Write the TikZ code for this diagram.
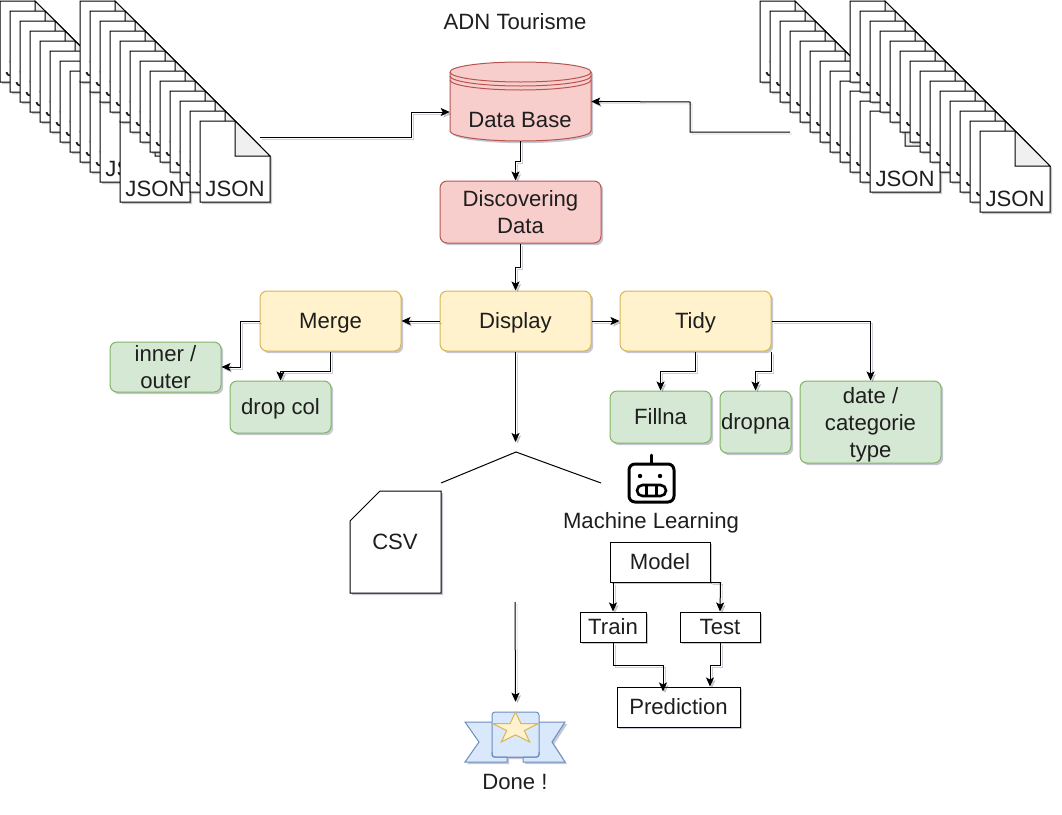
\documentclass[tikz,border=0pt]{standalone}
\usepackage{fontspec}
\setmainfont{Liberation Sans}
\usetikzlibrary{shadows,arrows.meta}
\definecolor{ink}{RGB}{30,30,30}
\definecolor{redfill}{HTML}{F8CECC}
\definecolor{redline}{HTML}{B85450}
\definecolor{yelfill}{HTML}{FFF2CC}
\definecolor{yelline}{HTML}{D6B656}
\definecolor{grnfill}{HTML}{D5E8D4}
\definecolor{grnline}{HTML}{82B366}
\definecolor{blufill}{HTML}{DAE8FC}
\definecolor{bluline}{HTML}{6C8EBF}
\definecolor{shade}{RGB}{90,95,125}
\newlength\px
\setlength\px{0.75pt}
% one sheet of a stack: name, left, top
\newcommand\jsonpage[3]{
  \draw[sheet] (#2,#3) -- ++(35,0) -- ++(35,35) -- ++(0,46) -- ++(-70,0) -- cycle;
  \draw[black,fill=black!6,line width=1\px] (#2+35,#3) -- ++(35,35) -- ++(-35,0) -- cycle;
  \node[lbl] (#1) at (#2+35,#3+67.5) {JSON};
}
\begin{document}
\begin{tikzpicture}[x=1\px,y=-1\px,>={Stealth[length=6.75pt,width=6pt,inset=1.5pt]},font=\fontsize{16.6}{20.25}\selectfont,text=ink,
  wh/.style 2 args={minimum width=#1\px,minimum height=#2\px,inner sep=0pt,align=center},
  oneline/.style={text height=13pt,text depth=2pt},
  soft/.style={drop shadow={shadow xshift=2.2\px,shadow yshift=-2.2\px,fill=shade,opacity=0.35}},
  lbl/.style={inner sep=0pt,align=center},
  sheet/.style={draw=black,fill=white,line width=1\px,soft},
  red/.style={draw=redline,fill=redfill,line width=1\px,rounded corners=7\px,soft},
  yel/.style={draw=yelline,fill=yelfill,line width=1\px,rounded corners=7\px,soft},
  grn/.style={draw=grnline,fill=grnfill,line width=1\px,rounded corners=7\px,soft},
  plain/.style={draw=black,fill=white,line width=1\px,soft},
  link/.style={->,draw=black,line width=1\px,preaction={draw=shade,opacity=0.3,transform canvas={xshift=2\px,yshift=-2\px}}}]
  \useasboundingbox (0,0) rectangle (1062,814);
  % stacks of files
  \foreach \k in {0,...,10,12} {\jsonpage{la\k}{\k*10}{\k*10+1}}
  \foreach \k in {0,...,12} {\jsonpage{lb\k}{80+\k*10}{\k*10+1}}
  \foreach \k in {0,...,11} {\jsonpage{ra\k}{760+\k*10}{\k*10+1}}
  \foreach \k in {0,...,13} {\jsonpage{rb\k}{850+\k*10}{\k*10+1}}
  \coordinate (leftout) at (260,137);
  \coordinate (rightout) at (790,132);
  \node[lbl] (title) at (515,22) {ADN Tourisme};
  % data base
  \draw[draw=redline,fill=redfill,line width=1\px,soft] (450,72) arc[x radius=70.5,y radius=10,start angle=-180,end angle=0]
    -- (591,131) arc[x radius=70.5,y radius=10,start angle=0,end angle=180] -- cycle;
  \draw[draw=redline,line width=1\px] (450,72) arc[x radius=70.5,y radius=10,start angle=180,end angle=0];
  \draw[draw=redline,line width=1\px] (450,76) arc[x radius=70.5,y radius=10,start angle=180,end angle=0];
  \draw[draw=redline,line width=1\px] (450,80) arc[x radius=70.5,y radius=10,start angle=180,end angle=0];
  \node[wh={141}{79}] (db) at (520.5,101.5) {};
  \node[lbl] (dbtxt) at (520,120) {Data Base};
  \node[red,wh={161}{62}] (discover) at (520.5,212) {Discovering\\Data};
  \node[yel,wh={151}{60},oneline] (display) at (515.5,321) {Display};
  \node[yel,wh={141}{60},oneline] (merge) at (330.5,321) {Merge};
  \node[yel,wh={151}{60},oneline] (tidy) at (695.5,321) {Tidy};
  \node[grn,wh={111}{50}] (inner) at (165.5,367) {inner /\\outer};
  \node[grn,wh={101}{52},oneline] (dropcol) at (280.5,407) {drop col};
  \node[grn,wh={101}{52},oneline] (fillna) at (660.5,417) {Fillna};
  \node[grn,wh={71}{62},oneline] (dropna) at (755.5,422) {dropna};
  \node[grn,wh={141}{82},text depth=0pt] (dtype) at (870.5,422) {date /\\categorie\\type};
  % fork
  \coordinate (forktip) at (515.5,442);
  \coordinate (forkl) at (441,483);
  \coordinate (forkt) at (516,452);
  \coordinate (forkr) at (601,483);
  \draw[draw=black,line width=1\px] (forkl) -- (forkt) -- (forkr);
  \draw[sheet] (380,491) -- (441,491) -- (441,593) -- (350,593) -- (350,521) -- cycle;
  \node[lbl] (csv) at (395,542) {CSV};
  % robot
  \draw[black,line width=3\px,line cap=round] (651,455) -- (651,463);
  \draw[black,line width=3\px,rounded corners=6\px,fill=white] (629,464) rectangle (674,502);
  \fill[black] (640,476) circle[radius=2.2] (660,476) circle[radius=2.2];
  \draw[black,line width=2.6\px,rounded corners=5.5\px,fill=white] (637,485) rectangle (666,496);
  \draw[black,line width=2.4\px] (646.5,485) -- (646.5,496) (656.5,485) -- (656.5,496);
  \node[lbl] (mltxt) at (651,523) {Machine Learning};
  \node[plain,wh={100}{40},oneline] (model) at (660,562) {Model};
  \node[plain,wh={66}{30},oneline] (train) at (613,627) {Train};
  \node[plain,wh={80}{30},oneline] (test) at (720,627) {Test};
  \node[plain,wh={123}{40},oneline] (pred) at (678.5,707) {Prediction};
  % ribbon
  \coordinate (csvout) at (515,602);
  \draw[draw=bluline,fill=blufill,line width=1\px,soft] (465,722) -- (492,722) -- (539,722) -- (565,722) -- (552,742) -- (565,762)
    -- (523,762) -- (523,757) -- (507,757) -- (507,762) -- (465,762) -- (479,742) -- cycle;
  \draw[draw=bluline,fill=blufill,line width=1\px,rounded corners=3\px] (492,712) rectangle (539,757);
  \draw[draw=bluline,line width=1\px,rounded corners=2\px] (492,752) -- (492,757) -- (507,757);
  \draw[draw=bluline,line width=1\px,rounded corners=2\px] (539,752) -- (539,757) -- (523,757);
  \draw[draw=yelline,fill=yelfill,line width=1\px] (515.5,712) -- (520.9,723.5) -- (538.5,723.5) -- (524.3,730.6) -- (529.7,742)
    -- (515.5,734.9) -- (501.3,742) -- (506.7,730.6) -- (492.5,723.5) -- (510.1,723.5) -- cycle;
  \node[wh={100}{70}] (ribbon) at (515.5,737) {};
  \node[lbl] (done) at (515,782) {Done !};
  % links
  \draw[link] (leftout) -- (411,137) -- (411,112) -- ([yshift=-10.5\px]db.west);
  \draw[link] (rightout) -- (690,132) -- (690,102) -- (db.east);
  \draw[link] (db.south) -- ++(0,20) -| ([xshift=-5\px]discover.north);
  \draw[link] (discover.south) -- ++(0,24) -| (display.north);
  \draw[link] (display.west) -- (merge.east);
  \draw[link] (display.east) -- (tidy.west);
  \draw[link] (merge.west) -- ++(-19,0) |- (inner.east);
  \draw[link] (merge.south) -- ++(0,20) -| (dropcol.north);
  \draw[link] (tidy.south) -- ++(0,20) -| (fillna.north);
  \draw[link] (tidy.south east) -- ++(0,20) -| (dropna.north);
  \draw[link] (tidy.east) -| (dtype.north);
  \draw[link] (display.south) -- (forktip);
  \draw[link] (csvout) -- (ribbon.north);
  \draw[link] ([xshift=-47\px]model.south) -- (train.north);
  \draw[link] (model.south east) -- ++(10,0) -- (test.north);
  \draw[link] (train.south) -- ++(0,23) -| ([xshift=-15.5\px,yshift=-5\px]pred.north);
  \draw[link] (test.south) -- ++(0,23) -| ([xshift=31.5\px]pred.north);
\end{tikzpicture}
\end{document}
